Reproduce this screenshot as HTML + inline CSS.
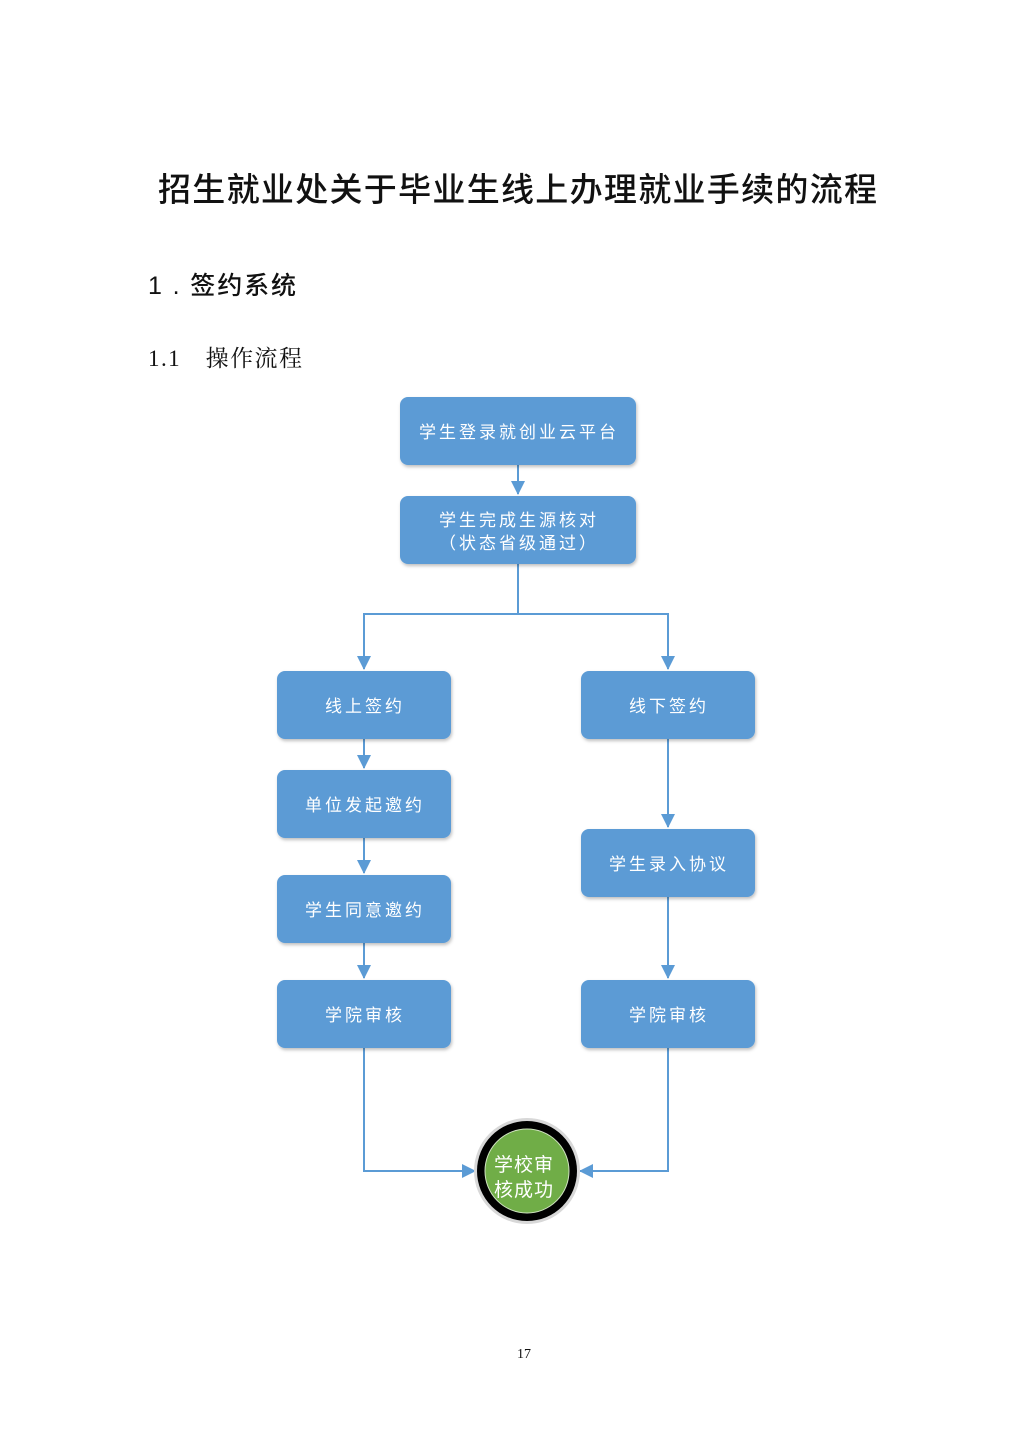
<!DOCTYPE html>
<html><head><meta charset="utf-8"><style>
html,body{margin:0;padding:0;background:#fff}
svg{display:block}
.s{font-family:"Liberation Sans","Noto Sans CJK SC",sans-serif}
.r{font-family:"Liberation Serif","Noto Serif CJK SC",serif}
.b{fill:#fff;font-size:17px;letter-spacing:3px;font-family:"Liberation Sans","Noto Sans CJK SC",sans-serif}
</style></head><body>
<svg width="1024" height="1448" viewBox="0 0 1024 1448" xmlns="http://www.w3.org/2000/svg">
<defs>
<filter id="sh" x="-10%" y="-10%" width="120%" height="130%"><feDropShadow dx="1" dy="2" stdDeviation="1.5" flood-color="#000" flood-opacity="0.25"/></filter>
<marker id="a" markerWidth="14" markerHeight="14" refX="13" refY="7" orient="auto" markerUnits="userSpaceOnUse"><path d="M0,0 L14,7 L0,14 z" fill="#5b9bd5"/></marker>
</defs>
<text x="158" y="201" class="s" font-size="33" font-weight="500" fill="#111" textLength="719" lengthAdjust="spacing">招生就业处关于毕业生线上办理就业手续的流程</text>
<text x="148" y="294" class="s" font-size="25" font-weight="500" fill="#111" textLength="148" lengthAdjust="spacing">1 . 签约系统</text>
<text x="148" y="366" class="r" font-size="23" fill="#111" textLength="154" lengthAdjust="spacing">1.1　操作流程</text>

<g stroke="#5b9bd5" stroke-width="2" fill="none">
<line x1="518" y1="465" x2="518" y2="494" marker-end="url(#a)"/>
<polyline points="518,564 518,614 364,614 364,669" marker-end="url(#a)"/>
<polyline points="518,614 668,614 668,669" marker-end="url(#a)"/>
<line x1="364" y1="739" x2="364" y2="768" marker-end="url(#a)"/>
<line x1="364" y1="838" x2="364" y2="873" marker-end="url(#a)"/>
<line x1="364" y1="943" x2="364" y2="978" marker-end="url(#a)"/>
<line x1="668" y1="739" x2="668" y2="827" marker-end="url(#a)"/>
<line x1="668" y1="897" x2="668" y2="978" marker-end="url(#a)"/>
<polyline points="364,1048 364,1171 475,1171" marker-end="url(#a)"/>
<polyline points="668,1048 668,1171 580,1171" marker-end="url(#a)"/>
</g>

<g fill="#5b9bd5" filter="url(#sh)">
<rect x="400" y="397" width="236" height="68" rx="8"/>
<rect x="400" y="496" width="236" height="68" rx="8"/>
<rect x="277" y="671" width="174" height="68" rx="8"/>
<rect x="277" y="770" width="174" height="68" rx="8"/>
<rect x="277" y="875" width="174" height="68" rx="8"/>
<rect x="277" y="980" width="174" height="68" rx="8"/>
<rect x="581" y="671" width="174" height="68" rx="8"/>
<rect x="581" y="829" width="174" height="68" rx="8"/>
<rect x="581" y="980" width="174" height="68" rx="8"/>
</g>
<g text-anchor="middle">
<text x="519" y="438" class="b">学生登录就创业云平台</text>
<text x="519" y="526" class="b">学生完成生源核对</text>
<text x="519" y="549" class="b">（状态省级通过）</text>
<text x="365" y="712" class="b">线上签约</text>
<text x="365" y="811" class="b">单位发起邀约</text>
<text x="365" y="916" class="b">学生同意邀约</text>
<text x="365" y="1021" class="b">学院审核</text>
<text x="669" y="712" class="b">线下签约</text>
<text x="669" y="870" class="b">学生录入协议</text>
<text x="669" y="1021" class="b">学院审核</text>
</g>
<circle cx="527" cy="1171" r="53" fill="#d8d8d8"/>
<circle cx="527" cy="1171" r="50" fill="#000"/>
<circle cx="527" cy="1171" r="42" fill="#70ad47" stroke="#cfe3c0" stroke-width="1"/>
<text x="524" y="1171" text-anchor="middle" class="s" font-size="19" fill="#fff" letter-spacing="1">学校审</text>
<text x="524" y="1196" text-anchor="middle" class="s" font-size="19" fill="#fff" letter-spacing="1">核成功</text>

<text x="524" y="1358" text-anchor="middle" class="r" font-size="14" fill="#111">17</text>
</svg>
</body></html>
